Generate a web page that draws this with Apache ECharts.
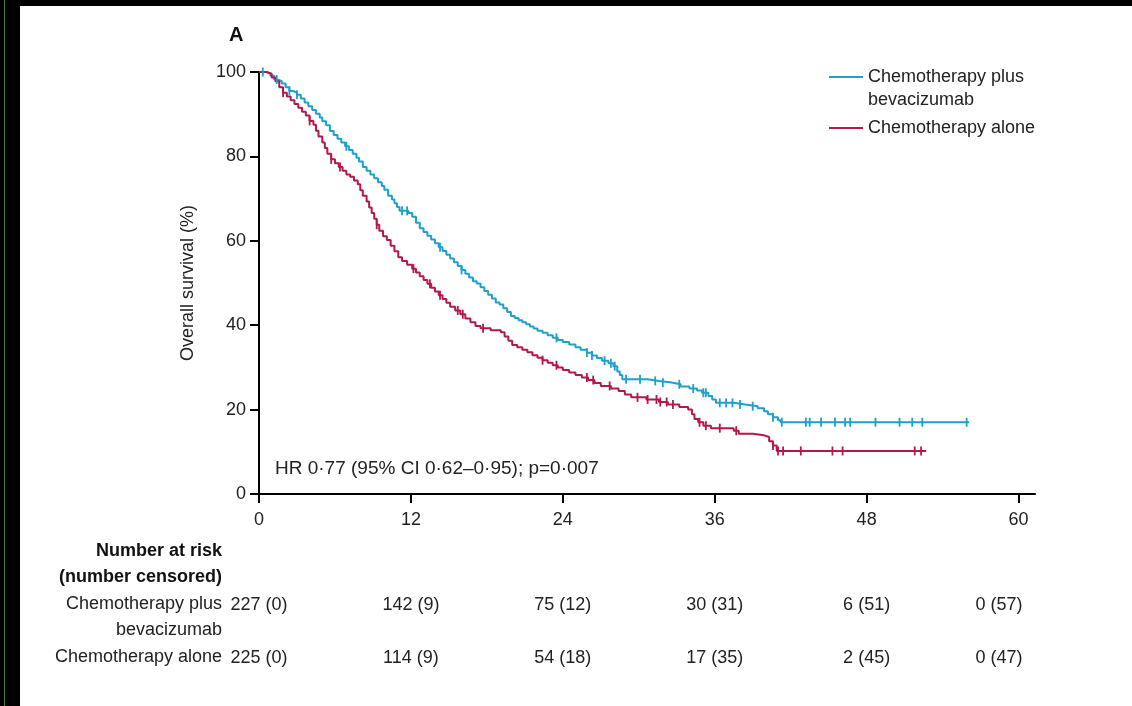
<!DOCTYPE html>
<html>
<head>
<meta charset="utf-8">
<script src="https://cdn.jsdelivr.net/npm/echarts@6/dist/echarts.min.js"></script>
<style>
html,body{margin:0;padding:0;background:#fff;}
#c{width:1132px;height:706px;}
</style>
</head>
<body>
<div id="c"></div>
<script>
// ---- data ----
const seriesNames = ['Chemotherapy plus bevacizumab', 'Chemotherapy alone'];
const xTicks = [0, 12, 24, 36, 48, 60];

// Kaplan-Meier steps: time (months) and survival (%) after each drop
const bevTimes = [0, 0.6, 0.9, 1.2, 1.5, 1.8, 2.1, 2.4, 2.7, 3.0, 3.3, 3.6, 3.9, 4.2, 4.5, 4.8, 5.0, 5.3, 5.6, 5.9, 6.2, 6.5, 6.8, 7.1, 7.4, 7.7, 7.9, 8.2, 8.5, 8.8, 9.1, 9.4, 9.7, 9.9, 10.2, 10.5, 10.7, 10.9, 11.1, 11.8, 12.1, 12.4, 12.7, 13.0, 13.3, 13.6, 13.9, 14.2, 14.5, 14.8, 15.1, 15.4, 15.7, 16.0, 16.3, 16.6, 16.9, 17.2, 17.5, 17.8, 18.1, 18.4, 18.7, 19.0, 19.3, 19.6, 19.9, 20.2, 20.5, 20.8, 21.1, 21.4, 21.7, 22.0, 22.4, 22.8, 23.2, 23.6, 24.0, 24.5, 25.0, 25.4, 25.9, 26.3, 26.7, 27.1, 27.6, 28.0, 28.3, 28.5, 28.7, 30.7, 31.6, 32.6, 33.3, 34.0, 34.6, 35.0, 35.5, 35.8, 36.1, 37.5, 38.4, 39.4, 39.9, 40.2, 40.6, 41.0, 41.2, 56.1];
const bevSurv  = [100, 99.6, 99.1, 98.2, 97.8, 97.3, 96.4, 95.5, 95.1, 94.6, 93.7, 92.8, 91.9, 91.0, 90.1, 89.2, 88.3, 87.4, 86.0, 85.1, 84.2, 83.3, 82.4, 81.5, 80.6, 79.7, 78.8, 77.5, 76.6, 75.7, 74.8, 73.9, 73.0, 72.1, 70.7, 69.8, 68.9, 68.0, 67.1, 66.6, 65.7, 64.3, 63.0, 62.1, 61.2, 60.3, 59.4, 58.5, 57.6, 56.7, 55.8, 54.9, 54.0, 53.1, 52.2, 51.3, 50.4, 49.9, 49.0, 48.1, 47.2, 46.3, 45.4, 44.9, 44.0, 43.1, 42.2, 41.7, 41.2, 40.7, 40.2, 39.7, 39.2, 38.7, 38.2, 37.6, 37.0, 36.5, 36.0, 35.4, 34.8, 34.2, 33.5, 32.8, 32.2, 31.6, 31.0, 30.3, 29.0, 28.2, 27.2, 26.8, 26.4, 26.0, 25.5, 25.0, 24.5, 24.0, 23.2, 22.4, 21.6, 21.2, 20.8, 20.3, 19.6, 18.9, 18.2, 17.5, 17.0, 17.0];
const bevCensor = [0.3, 1.4, 2.4, 3.0, 6.9, 11.3, 11.7, 14.3, 16.0, 23.5, 25.9, 26.3, 27.3, 27.8, 28.1, 29.0, 30.1, 31.3, 31.9, 33.2, 34.3, 35.1, 35.3, 36.4, 36.9, 37.4, 38.0, 39.0, 40.6, 41.3, 43.2, 43.5, 44.4, 45.5, 46.3, 46.7, 48.7, 50.6, 51.6, 52.4, 55.9];

const aloneTimes = [0, 0.6, 1.0, 1.3, 1.6, 1.9, 2.2, 2.5, 2.8, 3.1, 3.4, 3.7, 4.0, 4.3, 4.5, 4.7, 5.0, 5.2, 5.4, 5.7, 6.0, 6.3, 6.6, 6.9, 7.2, 7.5, 7.8, 8.0, 8.2, 8.5, 8.7, 8.9, 9.1, 9.3, 9.5, 9.8, 10.1, 10.4, 10.7, 11.0, 11.3, 11.7, 12.1, 12.4, 12.7, 13.0, 13.3, 13.6, 13.9, 14.2, 14.5, 14.8, 15.1, 15.5, 15.9, 16.3, 16.7, 17.1, 17.5, 18.3, 19.1, 19.4, 19.7, 20.0, 20.4, 20.8, 21.2, 21.6, 22.0, 22.4, 22.8, 23.2, 23.6, 24.0, 24.5, 25.0, 25.5, 26.0, 26.5, 27.0, 27.8, 28.4, 28.9, 29.4, 30.6, 31.6, 32.3, 33.2, 33.9, 34.2, 34.4, 34.7, 35.1, 35.7, 37.5, 37.9, 39.0, 39.9, 40.3, 40.6, 40.9, 52.7];
const aloneSurv  = [100, 99.6, 98.7, 97.8, 96.4, 95.1, 94.2, 93.3, 92.4, 91.5, 90.6, 89.7, 88.4, 87.5, 86.1, 84.7, 83.3, 82.0, 80.6, 79.3, 78.4, 77.5, 76.6, 75.7, 75.2, 74.3, 73.4, 72.0, 70.7, 69.3, 67.9, 66.6, 65.2, 63.8, 62.4, 61.1, 60.2, 58.8, 57.5, 56.1, 55.2, 54.3, 53.4, 52.5, 51.6, 50.7, 49.8, 48.9, 48.0, 47.1, 46.2, 45.3, 44.4, 43.5, 42.6, 41.6, 40.7, 39.8, 39.3, 38.8, 38.3, 37.3, 36.3, 35.3, 34.8, 34.2, 33.6, 32.9, 32.3, 31.7, 31.1, 30.5, 30.0, 29.4, 28.8, 28.2, 27.6, 27.0, 26.3, 25.6, 25.0, 24.4, 23.6, 22.9, 22.4, 21.8, 21.2, 20.6, 20.0, 18.9, 17.8, 17.0, 16.2, 15.6, 15.0, 14.3, 13.9, 13.5, 12.5, 11.5, 10.2, 10.2];
const aloneCensor = [1.9, 4.0, 5.7, 6.4, 9.3, 12.2, 13.5, 14.3, 15.7, 16.1, 17.7, 22.4, 23.5, 25.9, 26.4, 27.7, 29.9, 30.7, 31.4, 31.7, 32.2, 32.7, 34.8, 35.3, 36.4, 37.7, 40.6, 41.0, 41.4, 42.8, 45.3, 46.1, 51.8, 52.3];

// numbers at risk (number censored)
const riskTimes = [0, 12, 24, 36, 48, 60];
const riskBev   = ['227 (0)', '142 (9)', '75 (12)', '30 (31)', '6 (51)', '0 (57)'];
const riskAlone = ['225 (0)', '114 (9)', '54 (18)', '17 (35)', '2 (45)', '0 (47)'];

const hrText = 'HR 0·77 (95% CI 0·62–0·95); p=0·007';

// ---- helpers ----
function pairs(t, v) { return t.map((x, i) => [x, v[i]]); }
function survAt(t, v, x) {
  let s = v[0];
  for (let i = 0; i < t.length; i++) { if (t[i] <= x) s = v[i]; else break; }
  return s;
}
const BLUE = '#1ea0c8', RED = '#b2184b';
const FONT = "'Liberation Sans', Arial, sans-serif";
const FS = 18;

function riskData(row) {
  return riskTimes.map((t, i) => ({
    value: [t, row],
    label: i === riskTimes.length - 1 ? { align: 'right', offset: [4, 0] } : { align: 'center' }
  }));
}

const chart = echarts.init(document.getElementById('c'), null, { renderer: 'canvas' });
chart.setOption({
  backgroundColor: '#fff',
  animation: false,
  textStyle: { fontFamily: FONT },
  grid: [
    { left: 259, right: 97, top: 72, bottom: 212 },
    { left: 259, right: 97, top: 605, bottom: 48 }
  ],
  xAxis: [{
    type: 'value', gridIndex: 0, min: 0, max: 61.3,
    axisLine: { onZero: false, lineStyle: { color: '#000', width: 2 } },
    axisTick: { show: true, length: 9, lineStyle: { color: '#000', width: 2 }, customValues: xTicks },
    axisLabel: { color: '#222', fontSize: FS, fontFamily: FONT, margin: 17, customValues: xTicks },
    splitLine: { show: false }
  }, {
    type: 'value', gridIndex: 1, min: 0, max: 61.3, show: false
  }],
  yAxis: [{
    type: 'value', gridIndex: 0, min: 0, max: 100, interval: 20,
    name: 'Overall survival (%)', nameLocation: 'middle', nameGap: 62,
    nameTextStyle: { color: '#222', fontSize: FS, fontFamily: FONT },
    axisLine: { onZero: false, lineStyle: { color: '#000', width: 2 } },
    axisTick: { show: true, length: 9, lineStyle: { color: '#000', width: 2 } },
    axisLabel: { color: '#222', fontSize: FS, fontFamily: FONT, margin: 13 },
    splitLine: { show: false }
  }, {
    type: 'value', gridIndex: 1, min: 0, max: 1, show: false
  }],
  legend: {
    orient: 'vertical', left: 824, top: 63,
    itemWidth: 34, itemHeight: 2, itemGap: 33, icon: 'rect',
    textStyle: { color: '#222', fontSize: FS, fontFamily: FONT },
    formatter: n => n === seriesNames[0] ? 'Chemotherapy plus' : n,
    data: seriesNames
  },
  series: [
    { name: seriesNames[0], type: 'line', step: 'end', symbol: 'none', xAxisIndex: 0, yAxisIndex: 0,
      data: pairs(bevTimes, bevSurv), lineStyle: { color: BLUE, width: 2 }, itemStyle: { color: BLUE }, z: 3 },
    { name: seriesNames[1], type: 'line', step: 'end', symbol: 'none', xAxisIndex: 0, yAxisIndex: 0,
      data: pairs(aloneTimes, aloneSurv), lineStyle: { color: RED, width: 2 }, itemStyle: { color: RED }, z: 3 },
    { type: 'scatter', xAxisIndex: 0, yAxisIndex: 0, symbol: 'rect', symbolSize: [1.8, 9],
      itemStyle: { color: BLUE, opacity: 1 }, z: 4,
      data: bevCensor.map(t => [t, survAt(bevTimes, bevSurv, t)]) },
    { type: 'scatter', xAxisIndex: 0, yAxisIndex: 0, symbol: 'rect', symbolSize: [1.8, 9],
      itemStyle: { color: RED, opacity: 1 }, z: 4,
      data: aloneCensor.map(t => [t, survAt(aloneTimes, aloneSurv, t)]) },
    { type: 'scatter', xAxisIndex: 1, yAxisIndex: 1, symbolSize: 1, itemStyle: { color: 'rgba(0,0,0,0)', opacity: 1 },
      label: { show: true, position: 'inside', color: '#222', opacity: 1, fontSize: FS, fontFamily: FONT,
        formatter: p => riskBev[p.dataIndex] },
      data: riskData(1) },
    { type: 'scatter', xAxisIndex: 1, yAxisIndex: 1, symbolSize: 1, itemStyle: { color: 'rgba(0,0,0,0)', opacity: 1 },
      label: { show: true, position: 'inside', color: '#222', opacity: 1, fontSize: FS, fontFamily: FONT,
        formatter: p => riskAlone[p.dataIndex] },
      data: riskData(0) }
  ],
  graphic: [
    { type: 'rect', left: 0, top: 0, shape: { width: 20, height: 706 }, style: { fill: '#000' }, silent: true },
    { type: 'rect', left: 0, top: 0, shape: { width: 1132, height: 6 }, style: { fill: '#000' }, silent: true },
    { type: 'rect', left: 4, top: 0, shape: { width: 1, height: 706 }, style: { fill: '#4f7f3f' }, silent: true },
    { type: 'text', left: 229, top: 25, style: { text: 'A', font: "bold 20px " + FONT, fill: '#111' } },
    { type: 'text', left: 868, top: 91, style: { text: 'bevacizumab', font: FS + "px " + FONT, fill: '#222' } },
    { type: 'text', left: 275, top: 459, style: { text: hrText, font: "19px " + FONT, fill: '#222' } },
    { type: 'text', right: 1132 - 222, top: 542, style: { text: 'Number at risk', font: "bold " + FS + "px " + FONT, fill: '#111', textAlign: 'right' } },
    { type: 'text', right: 1132 - 222, top: 568, style: { text: '(number censored)', font: "bold " + FS + "px " + FONT, fill: '#111', textAlign: 'right' } },
    { type: 'text', right: 1132 - 222, top: 595, style: { text: 'Chemotherapy plus', font: FS + "px " + FONT, fill: '#222', textAlign: 'right' } },
    { type: 'text', right: 1132 - 222, top: 621, style: { text: 'bevacizumab', font: FS + "px " + FONT, fill: '#222', textAlign: 'right' } },
    { type: 'text', right: 1132 - 222, top: 648, style: { text: 'Chemotherapy alone', font: FS + "px " + FONT, fill: '#222', textAlign: 'right' } }
  ]
});
</script>
</body>
</html>
